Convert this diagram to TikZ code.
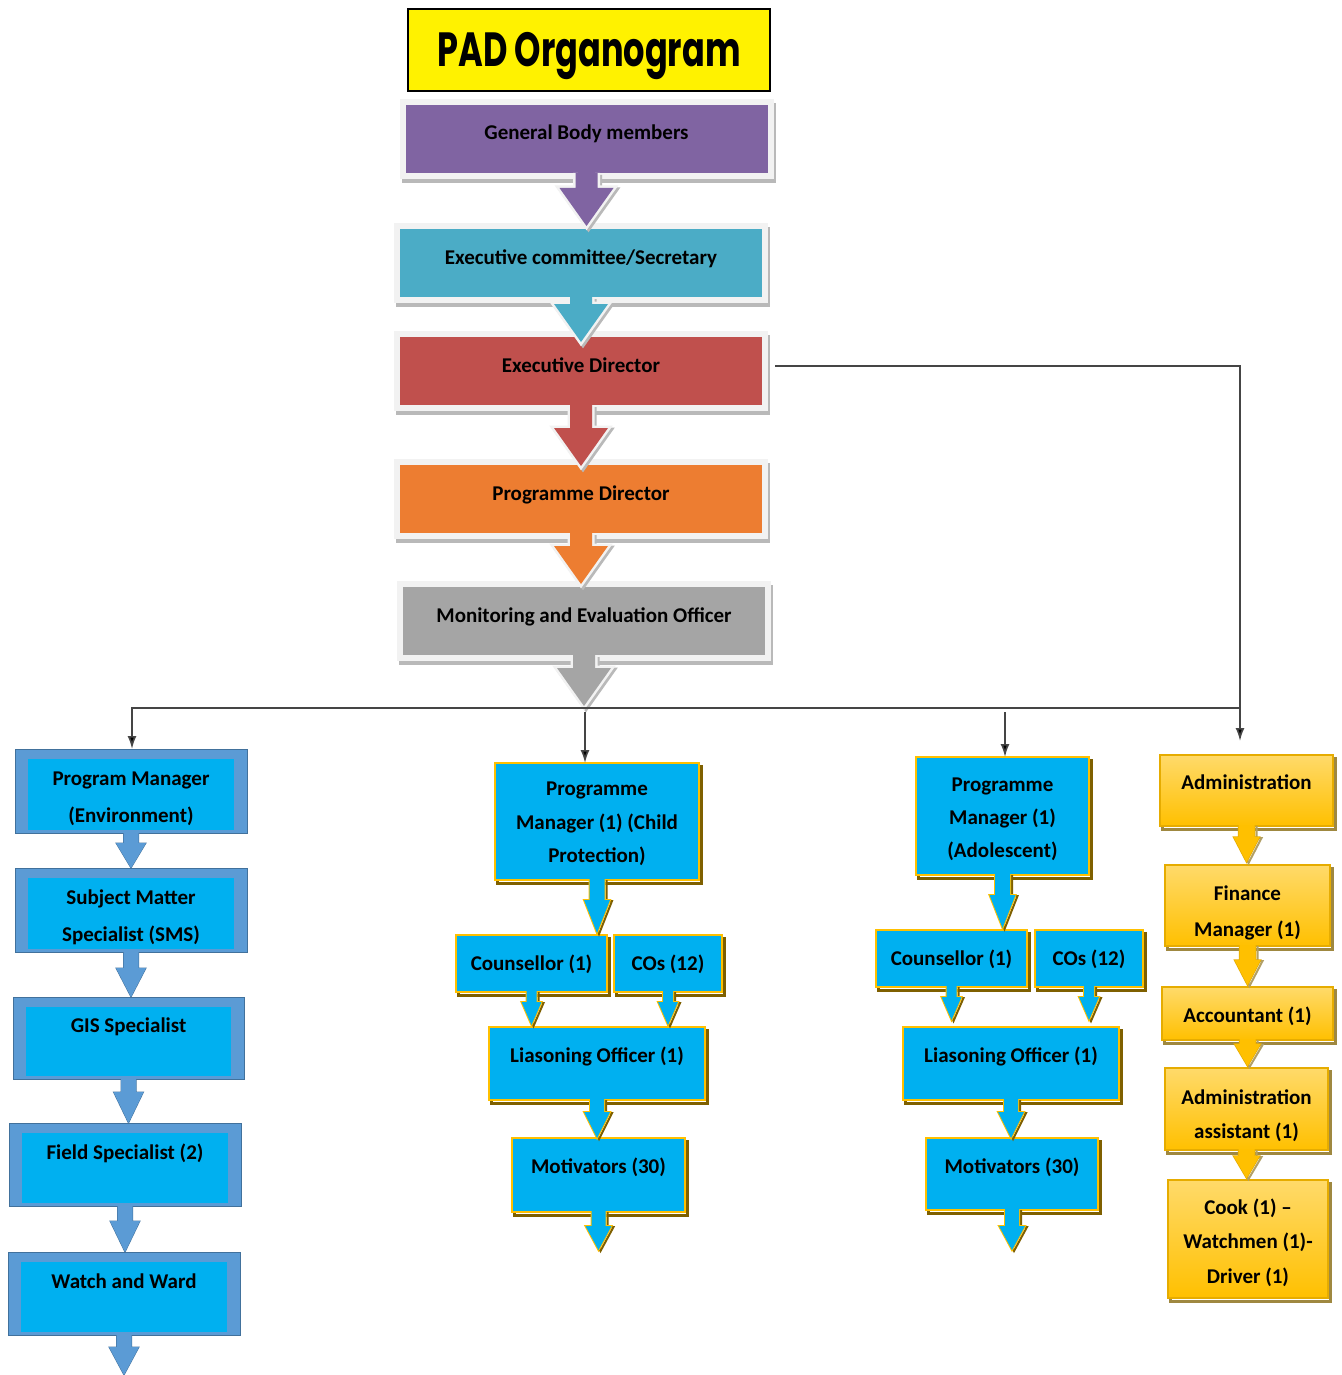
\documentclass[tikz,border=0pt]{standalone}
\usepackage{fontspec}
\setmainfont{Carlito}
\newfontfamily\titlefont{Poppins}
\usepackage{graphicx}
\usetikzlibrary{arrows.meta,calc}

\definecolor{cPurple}{HTML}{8064A2}
\definecolor{cTeal}{HTML}{4BACC6}
\definecolor{cRed}{HTML}{C0504D}
\definecolor{cOrange}{HTML}{ED7D31}
\definecolor{cGray}{HTML}{A5A5A5}
\definecolor{cCyan}{HTML}{00B0F0}
\definecolor{cSteel}{HTML}{5B9BD5}
\definecolor{cSteelD}{HTML}{41719C}
\definecolor{cGold}{HTML}{FFC000}
\definecolor{cGoldL}{HTML}{FFDA6A}
\definecolor{cGoldD}{HTML}{E6AC00}
\definecolor{cOlive}{HTML}{7F6000}
\definecolor{cFrame}{HTML}{F2F2F2}
\definecolor{cConn}{HTML}{454545}

% block arrow: #1 outline style, #2 fill style, #3 start, #4 tip (y only), #5 shaft half, #6 head half, #7 head length
\newcommand{\barr}[7]{%
  \path[#1] let \p1=(#3), \p2=(#4) in
    (\x1-#5,\y1) -- (\x1-#5,\y2+#7) -- (\x1-#6,\y2+#7) -- (\x1,\y2)
    -- (\x1+#6,\y2+#7) -- (\x1+#5,\y2+#7) -- (\x1+#5,\y1);
  \path[#2] let \p1=(#3), \p2=(#4) in
    (\x1-#5,\y1) -- (\x1-#5,\y2+#7) -- (\x1-#6,\y2+#7) -- (\x1,\y2)
    -- (\x1+#6,\y2+#7) -- (\x1+#5,\y2+#7) -- (\x1+#5,\y1) -- cycle;
}

\tikzset{
  txt/.style={font=\bfseries\fontsize{21}{#1}\selectfont, align=center},
  txt/.default=34,
  titlebox/.style={rectangle, outer sep=0pt, inner sep=0pt, draw=black, line width=1.2pt,
    fill=yellow, minimum width=362pt, minimum height=82pt, text height=34pt, text depth=0pt},
  topbox/.style={rectangle, outer sep=0pt, inner sep=0pt, draw=cFrame, line width=6pt,
    fill=#1, minimum width=368pt, minimum height=74pt, text height=15pt, text depth=13pt,
    txt, preaction={draw=gray!55, line width=6pt, transform canvas={shift={(2pt,-4pt)}}}},
  toparrowline/.style={draw=cFrame, line width=5pt, line join=miter,
    preaction={draw=gray!55, line width=5pt, transform canvas={shift={(2pt,-2pt)}}}},
  lbox/.style={rectangle, outer sep=0pt, inner sep=0pt, draw=cSteelD, line width=1pt,
    fill=cSteel, minimum width=232pt, minimum height=84pt, txt=37,
    path picture={\fill[cCyan] ($(path picture bounding box.north west)+(13pt,-10pt)$)
      rectangle ($(path picture bounding box.south east)+(-13pt,3pt)$);}},
  mbox/.style={rectangle, outer sep=0pt, inner sep=0pt, fill=cCyan, draw=cGold, line width=2pt,
    preaction={draw=cOlive, line width=3pt, transform canvas={shift={(2.5pt,-3pt)}}}},
  gbox/.style={rectangle, outer sep=0pt, inner sep=0pt, top color=cGoldL, bottom color=cGold,
    draw=cGoldD, line width=1.5pt,
    preaction={draw=cOlive!75, line width=3pt, transform canvas={shift={(2.5pt,-3pt)}}}},
  one/.style={text height=15pt, text depth=#1},
  conn/.style={draw=cConn, line width=1.7pt, -{Latex[length=13pt,width=9pt,fill=black]}},
  lout/.style={draw=cSteelD, line width=1pt},
  mout/.style={draw=cGold, line width=2pt, line join=miter,
    preaction={draw=cOlive, line width=2pt, transform canvas={shift={(2pt,-1pt)}}}},
  gout/.style={draw=cGoldD, line width=1.5pt, line join=miter,
    preaction={draw=cOlive!60, line width=2pt, transform canvas={shift={(2pt,-1pt)}}}},
}

\begin{document}
\begin{tikzpicture}[x=1pt,y=-1pt]
\useasboundingbox (0,0) rectangle (1341,1375);
\fill[white] (0,0) rectangle (1341,1375);

% title
\node[titlebox] (title) at (589,50) {\titlefont\bfseries\fontsize{48}{50}\selectfont\scalebox{0.70}[1]{PAD Organogram}};

% top column
\node[topbox=cPurple] (gb) at (586.5,139) {General Body members};
\node[topbox=cTeal]   (ec) at (581,263) {Executive committee/Secretary};
\node[topbox=cRed]    (ed) at (581,371) {Executive Director};
\node[topbox=cOrange] (pd) at (581,499) {Programme Director};
\node[topbox=cGray]   (me) at (584,621) {Monitoring and Evaluation Officer};
\coordinate (metip) at (585,706);

\barr{toparrowline}{fill=cPurple}{[yshift=3pt]gb.south}{ec.north}{11pt}{27pt}{38pt}
\barr{toparrowline}{fill=cTeal}{[yshift=3pt]ec.south}{[yshift=-8pt]ed.north}{11pt}{27pt}{38pt}
\barr{toparrowline}{fill=cRed}{[yshift=3pt]ed.south}{[yshift=-4pt]pd.north}{11pt}{27pt}{38pt}
\barr{toparrowline}{fill=cOrange}{[yshift=3pt]pd.south}{me.north}{11pt}{27pt}{38pt}
\barr{toparrowline}{fill=cGray}{[yshift=3pt]me.south}{metip}{11pt}{27pt}{38pt}

% left column
\node[lbox] (pmenv) at (131,791) {\rule{0pt}{30pt}Program Manager\\(Environment)};
\node[lbox] (sms) at (131,910) {\rule{0pt}{30pt}Subject Matter\\Specialist (SMS)};
\node[lbox, minimum width=231pt, minimum height=82pt, one=26pt] (gis) at (128.5,1038) {GIS Specialist};
\node[lbox, minimum height=83pt, one=26pt] (field) at (125,1164.5) {Field Specialist (2)};
\node[lbox, minimum height=83pt, one=26pt] (watch) at (124,1293.5) {Watch and Ward};
\coordinate (wtip) at (124,1375);

\barr{lout}{fill=cSteel}{pmenv.south}{sms.north}{7.5pt}{15pt}{25pt}
\barr{lout}{fill=cSteel}{sms.south}{gis.north}{7.5pt}{15pt}{29pt}
\barr{lout}{fill=cSteel}{gis.south}{field.north}{7.5pt}{15pt}{31pt}
\barr{lout}{fill=cSteel}{field.south}{watch.north}{7.5pt}{15pt}{31pt}
\barr{lout}{fill=cSteel}{watch.south}{wtip}{7.5pt}{15pt}{28pt}

% child protection column
\node[mbox, txt=33.5, minimum width=204pt, minimum height=117pt] (pmc) at (597,821.5) {\rule{0pt}{19pt}Programme\\Manager (1) (Child\\Protection)};
\node[mbox, txt, one=1pt, minimum width=151pt, minimum height=57pt] (cc) at (531.5,963.5) {Counsellor (1)};
\node[mbox, txt, one=1pt, minimum width=108pt, minimum height=57pt] (coc) at (668,963.5) {COs (12)};
\node[mbox, txt, one=17pt, minimum width=216pt, minimum height=73pt] (loc) at (597,1063.5) {Liasoning Officer (1)};
\node[mbox, txt, one=19pt, minimum width=173pt, minimum height=74pt] (mc) at (598.5,1175) {Motivators (30)};
\coordinate (mctip) at (598.5,1250);

\barr{mout}{fill=cCyan}{[yshift=1pt]pmc.south}{[yshift=2pt]cc.north}{7.5pt}{13pt}{33pt}
\barr{mout}{fill=cCyan}{[yshift=1pt]cc.south}{[yshift=2pt]loc.north}{5pt}{10pt}{23pt}
\barr{mout}{fill=cCyan}{[yshift=1pt]coc.south}{[yshift=2pt]loc.north}{5pt}{10pt}{23pt}
\barr{mout}{fill=cCyan}{[yshift=1pt]loc.south}{mc.north}{7pt}{13pt}{26pt}
\barr{mout}{fill=cCyan}{[yshift=1pt]mc.south}{mctip}{7pt}{13pt}{24pt}

% adolescent column
\node[mbox, txt=33, minimum width=173pt, minimum height=118pt] (pma) at (1002.5,816) {\rule{0pt}{21pt}Programme\\Manager (1)\\(Adolescent)};
\node[mbox, txt, one=1pt, minimum width=151pt, minimum height=57pt] (ca) at (951.5,958.5) {Counsellor (1)};
\node[mbox, txt, one=1pt, minimum width=108pt, minimum height=57pt] (coa) at (1089,958.5) {COs (12)};
\node[mbox, txt, one=17pt, minimum width=216pt, minimum height=73pt] (loa) at (1011,1063.5) {Liasoning Officer (1)};
\node[mbox, txt, one=17pt, minimum width=172pt, minimum height=72pt] (ma) at (1012,1174) {Motivators (30)};
\coordinate (matip) at (1012,1250);

\barr{mout}{fill=cCyan}{[yshift=1pt]pma.south}{[yshift=2pt]ca.north}{7.5pt}{13pt}{33pt}
\barr{mout}{fill=cCyan}{[yshift=1pt]ca.south}{[yshift=7pt]loa.north}{5pt}{10pt}{23pt}
\barr{mout}{fill=cCyan}{[yshift=1pt]coa.south}{[yshift=7pt]loa.north}{5pt}{10pt}{23pt}
\barr{mout}{fill=cCyan}{[yshift=1pt]loa.south}{ma.north}{7pt}{13pt}{26pt}
\barr{mout}{fill=cCyan}{[yshift=1pt]ma.south}{matip}{7pt}{13pt}{24pt}

% administration column
\node[gbox, txt, one=18pt, minimum width=173pt, minimum height=71pt] (adm) at (1246.5,790.5) {Administration};
\node[gbox, txt=36, minimum width=165pt, minimum height=81pt] (fin) at (1247.5,905.5) {\rule{0pt}{30pt}Finance\\Manager (1)};
\node[gbox, txt, text height=17pt, text depth=0pt, minimum width=171pt, minimum height=53pt] (acc) at (1247.5,1013.5) {Accountant (1)};
\node[gbox, txt=34, minimum width=163pt, minimum height=82pt] (ast) at (1246.5,1109) {\rule{0pt}{28pt}Administration\\assistant (1)};
\node[gbox, txt=34.5, minimum width=160pt, minimum height=118pt] (cook) at (1248,1239) {\rule{0pt}{23pt}Cook (1) –\\Watchmen (1)-\\Driver (1)};

\barr{gout}{fill=cGold}{[yshift=1pt]adm.south}{[yshift=3pt]fin.north}{8pt}{13pt}{25pt}
\barr{gout}{fill=cGold}{[yshift=1pt]fin.south}{[yshift=2pt]acc.north}{8pt}{13pt}{25pt}
\barr{gout}{fill=cGold}{[yshift=1pt]acc.south}{[yshift=2pt]ast.north}{8pt}{13pt}{22pt}
\barr{gout}{fill=cGold}{[yshift=1pt]ast.south}{[yshift=2pt]cook.north}{8pt}{13pt}{22pt}

% thin connectors
\coordinate (busL) at (132,708);
\coordinate (busR) at (1240,708);
\coordinate (edR) at (1240,366);
\coordinate (d1) at (585,712);
\coordinate (d2) at (1005,712);
\draw[conn, shorten >=14pt] ([xshift=10pt,yshift=5pt]ed.east) -- (edR) -- (edR |- adm.north);
\draw[conn] (busR) -- (busL) -- (busL |- pmenv.north);
\draw[conn] (d1) -- (d1 |- pmc.north);
\draw[conn] (d2) -- (d2 |- pma.north);
\end{tikzpicture}
\end{document}
